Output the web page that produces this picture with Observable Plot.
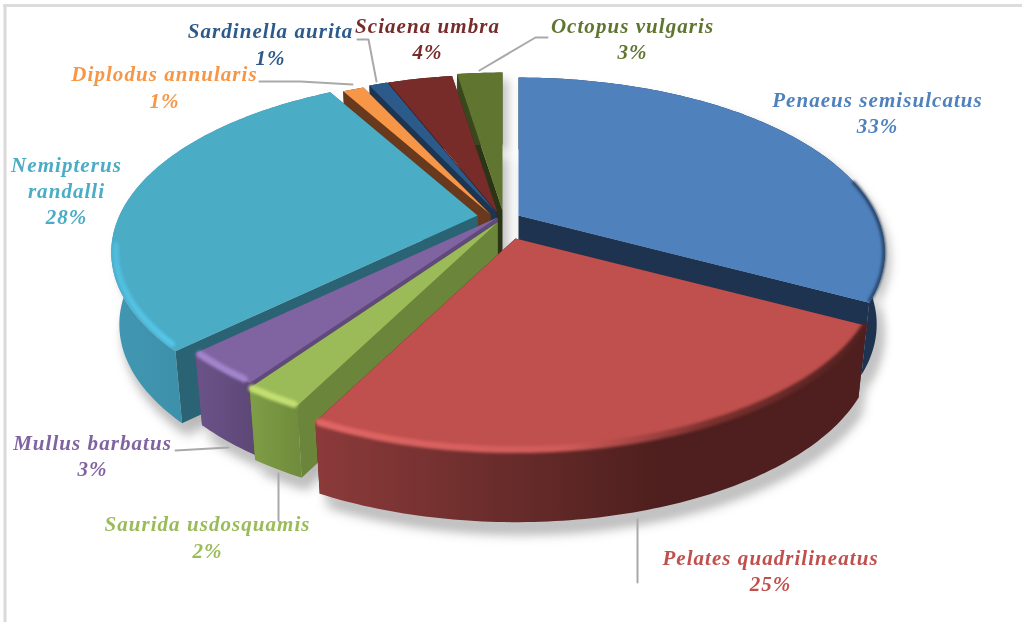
<!DOCTYPE html>
<html>
<head>
<meta charset="utf-8">
<script src="https://cdn.jsdelivr.net/npm/d3@7"></script>
<script src="https://cdn.jsdelivr.net/npm/@observablehq/plot@0.6"></script>
<style>html,body{margin:0;padding:0;background:#fff}svg{display:block}</style>
</head>
<body>
<div id="chart"></div>
<script>
// ---- data ----
const species = ["Penaeus semisulcatus","Pelates quadrilineatus","Saurida usdosquamis","Mullus barbatus","Nemipterus\nrandalli","Diplodus annularis","Sardinella aurita","Sciaena umbra","Octopus vulgaris"];
const percentLabels = ["33%","25%","2%","3%","28%","1%","1%","4%","3%"];
const shares = [32.8,24.7,2.2,3.1,29.1,1.15,1.0,3.5,2.45];
const topColors = ["#4f81bd","#c0504d","#9bbb59","#8064a2","#4bacc6","#f79646","#2c5a8a","#772c2a","#5f7530"];
const wallColors = ["#1e3350","url(#wallRed)","url(#wallGreen)","url(#wallPurple)","url(#wallTeal)","#68391c","#1c3550","#481a19","#39471d"];
const radialColors = ["#1e3350","#4e1f1e","#6b853a","#5f4a7a","#2a6474","#68391c","#1c3550","#481a19","#2a3515"];

// ---- layout of the exploded 3D pie ----
const apexX = [518,515,497,497,477,490,496,497,502];
const apexY = [215,238,222,217,215,214,212,212,210];
const labelX = [877,770,207,92,66,164,270,427,632];
const labelY = [113,571,537.5,456,191,87.5,44.5,39,39];
const drawOrder = [8,7,6,5,0,4,3,2,1];
const RX = 358, RY = 167, K = 0.211, DEPTH = 72, TAPER = 0.978;

const cumulative = d3.cumsum(shares);
const startAngle = i => (i ? cumulative[i-1] : 0) * 3.6 * Math.PI / 180;
const endAngle = i => cumulative[i] * 3.6 * Math.PI / 180;

function project(i, theta, r, bottom) {
  const u = r * Math.sin(theta), v = -r * Math.cos(theta);
  const s = 1 / (1 - K * v);
  const X = RX * u * s, Y = RY * v * s;
  return bottom
    ? {x: apexX[i] + X * TAPER, y: apexY[i] + Y + DEPTH}
    : {x: apexX[i] + X, y: apexY[i] + Y};
}
function arc(i, a0, a1, bottom, r = 1) {
  const n = Math.max(2, Math.ceil(Math.abs(a1 - a0) * 60));
  return d3.range(n + 1).map(k => project(i, a0 + (a1 - a0) * k / n, r, bottom));
}
const topFace = i => [project(i,0,0,false), ...arc(i,startAngle(i),endAngle(i),false)];
const bottomFace = i => [project(i,0,0,true), ...arc(i,startAngle(i),endAngle(i),true)];
const outerWall = i => [...arc(i,startAngle(i),endAngle(i),false), ...arc(i,endAngle(i),startAngle(i),true)];
const radialWall = (i, a) => [project(i,0,0,false), project(i,a,1,false), project(i,a,1,true), project(i,0,0,true)];

const deg = d => d * Math.PI / 180;
const rimArcs = [
  {i:0, from:78,  to:117.5, stroke:"#1f3a5c", w:3, r:0.998},
  {i:1, from:118.5, to:206.5, stroke:"url(#rimRed)", w:7, r:0.998},
  {i:2, from:207.6, to:214.6, stroke:"#c3de72", w:7, r:0.998},
  {i:3, from:216.2, to:225.4, stroke:"#a284cc", w:7, r:0.995},
  {i:4, from:228, to:260, stroke:"url(#rimTeal)", w:6, r:0.988}
];

// ---- leader lines ----
const leaders = [
  [[637,519],[637,582]],
  [[278,473],[278,520]],
  [[175,450],[228,447]],
  [[259,81],[300,81],[352,84]],
  [[357,39],[368,39],[376,81]],
  [[547,37],[535,37],[479,70]]
].map(pts => pts.map(([x,y]) => ({x,y})));

function gradient(id, stops, vertical) {
  return `<linearGradient id="${id}" x1="0" y1="0" x2="${vertical?0:1}" y2="${vertical?1:0}">` +
    stops.map(([o,c]) => `<stop offset="${o}" stop-color="${c}"/>`).join("") + `</linearGradient>`;
}
const defsMark = () => {
  const g = document.createElementNS("http://www.w3.org/2000/svg","g");
  g.innerHTML = "<defs>" +
    gradient("wallRed",[[0,"#8c3a3a"],[.3,"#6d2e2d"],[.62,"#4e1f1e"],[1,"#4e1f1e"]]) +
    gradient("wallGreen",[[0,"#7f9e46"],[1,"#6f8b3c"]]) +
    gradient("wallPurple",[[0,"#6b5389"],[1,"#5d4776"]]) +
    gradient("wallTeal",[[0,"#4197b2"],[.6,"#3a8aa3"],[1,"#2f7a90"]]) +
    gradient("rimRed",[[0,"#df6664"],[.45,"#cf5b59"],[.72,"#7a302e"],[1,"#50201f"]]) +
    gradient("rimTeal",[[0,"#4fbcdc"],[1,"#56c6e8"]],true) +
    "</defs>";
  return g;
};

const poly = (pts, fill, extra={}) => Plot.line(pts, {x:"x", y:"y", fill, stroke:"none", curve:"linear", ...extra});
const marks = [defsMark];

// frame of the screenshot
marks.push(Plot.ruleX([4.5], {y1:4, y2:622, stroke:"#d9d9d9", strokeWidth:3}));
marks.push(Plot.ruleY([5], {x1:3, x2:1022, stroke:"#dcdcdc", strokeWidth:3}));

// soft drop shadow
for (const i of drawOrder) {
  marks.push(poly(bottomFace(i).map(p => ({x:p.x+5, y:p.y+12})), "#b8b8b8", {imageFilter:"blur(6px)"}));
  marks.push(poly(outerWall(i).map(p => ({x:p.x+6, y:p.y+7})), "#c4c4c4", {imageFilter:"blur(5px)"}));
}

// slices, back to front
for (const i of drawOrder) {
  marks.push(poly(radialWall(i,startAngle(i)), radialColors[i]));
  marks.push(poly(radialWall(i,endAngle(i)), radialColors[i]));
  marks.push(poly(outerWall(i), wallColors[i]));
  marks.push(poly(topFace(i), topColors[i], {imageFilter:"blur(0.4px)"}));
  for (const r of rimArcs.filter(r => r.i === i)) {
    marks.push(Plot.line(arc(i,deg(r.from),deg(r.to),false,r.r), {x:"x", y:"y", stroke:r.stroke, strokeWidth:r.w, curve:"linear", imageFilter:"blur(1.5px)"}));
  }
}

// leaders
for (const l of leaders) marks.push(Plot.line(l, {x:"x", y:"y", stroke:"#a9a9a9", strokeWidth:2, curve:"linear"}));

// labels
const textColors = ["#4f81bd","#c0504d","#9bbb59","#8064a2","#4bacc6","#f79646","#2c5a8a","#772c2a","#5f7530"];
marks.push(Plot.text(species.map((s,i) => ({s,i})), {
  x: d => labelX[d.i], y: d => labelY[d.i] - 2,
  text: d => `${d.s}\n${percentLabels[d.i]}`,
  fill: d => textColors[d.i],
  fontFamily: "Liberation Serif", fontStyle: "italic", fontWeight: "bold", fontSize: 21,
  lineHeight: 1.25, textAnchor: "middle", lineAnchor: "middle", imageFilter: "blur(0.35px)"
}));

const chart = Plot.plot({
  width: 1022, height: 622, margin: 0,
  x: {domain:[0,1022], range:[0,1022], axis:null},
  y: {domain:[0,622], range:[0,622], axis:null},
  color: {type:"identity"},
  style: {background:"white", letterSpacing:"1.05px"},
  marks
});
document.getElementById("chart").append(chart);
</script>
</body>
</html>
